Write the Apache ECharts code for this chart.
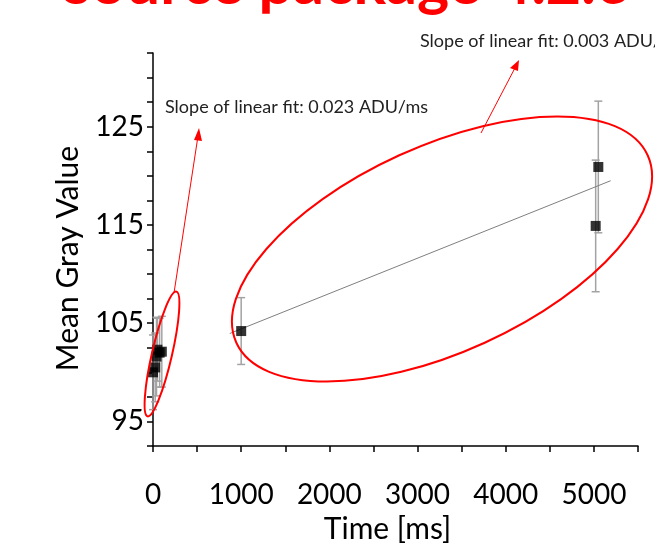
<!DOCTYPE html>
<html>
<head>
<meta charset="utf-8">
<style>
  html, body { margin: 0; padding: 0; background: #fff; }
  #chart { width: 655px; height: 550px; }
</style>
<script src="https://cdn.jsdelivr.net/npm/echarts@6/dist/echarts.min.js"></script>
</head>
<body>
<div id="chart"></div>
<script>
// 数据：时间 [ms]、平均灰度值、误差
var timeMs    = [0, 25, 40, 50, 75, 100, 1000, 5020, 5050];
var grayValue = [100.0, 100.5, 101.6, 102.3, 102.0, 102.1, 104.2, 114.9, 120.9];
var grayError = [3.8, 3.5, 4.0, 3.2, 3.5, 3.6, 3.4, 6.7, 6.7];

// 线性拟合（长曝光段）的两个端点
var fitTime  = [870, 5190];
var fitValue = [103.95, 119.5];

// 刻度标签
var xTickLabels = [0, 1000, 2000, 3000, 4000, 5000];
var yTickLabels = [95, 105, 115, 125];

var slopeShort = 'Slope of linear fit: 0.023 ADU/ms';
var slopeLong  = 'Slope of linear fit: 0.003 ADU/ms';
var titleText  = 'source package 4.2.6';

var FONT = 'Lato';

var points = timeMs.map(function (t, i) { return [t, grayValue[i]]; });
var errBars = timeMs.map(function (t, i) {
	return [t, grayValue[i] - grayError[i], grayValue[i] + grayError[i]];
});
var fitLine = fitTime.map(function (t, i) { return [t, fitValue[i]]; });

var chart = echarts.init(document.getElementById('chart'));

//误差线
function renderErrBar(params, api) {
	var lo = api.coord([api.value(0), api.value(1)]);
	var hi = api.coord([api.value(0), api.value(2)]);
	var cap = 4;
	var style = { stroke: '#a3a3a3', lineWidth: 1.5 };
	return {
		type: 'group',
		children: [
			{ type: 'line', shape: { x1: lo[0], y1: lo[1], x2: hi[0], y2: hi[1] }, style: style },
			{ type: 'line', shape: { x1: lo[0] - cap, y1: lo[1], x2: lo[0] + cap, y2: lo[1] }, style: style },
			{ type: 'line', shape: { x1: hi[0] - cap, y1: hi[1], x2: hi[0] + cap, y2: hi[1] }, style: style }
		]
	};
}

chart.setOption({
	animation: false,
	grid: { left: 153, right: 17, top: 53, bottom: 104 },
	xAxis: {
		type: 'value',
		min: 0, max: 5500, interval: 500,
		name: 'Time [ms]',
		nameLocation: 'middle',
		nameGap: 68,
		nameTextStyle: { fontFamily: FONT, fontSize: 30, color: '#000', padding: [0, 16, 0, 0] },
		axisLine: { onZero: false, lineStyle: { color: '#000', width: 1.5 } },
		axisTick: { length: 6, lineStyle: { color: '#000', width: 1.5 } },
		axisLabel: {
			margin: 35, fontFamily: FONT, fontSize: 28, color: '#000',
			formatter: function (v) { return xTickLabels.indexOf(v) >= 0 ? String(v) : ''; }
		},
		splitLine: { show: false }
	},
	yAxis: {
		type: 'value',
		min: 92.5, max: 132.5, interval: 2.5,
		name: 'Mean Gray Value',
		nameLocation: 'middle',
		nameGap: 70,
		nameTextStyle: { fontFamily: FONT, fontSize: 30, color: '#000', padding: [0, 18, 0, 0] },
		axisLine: { onZero: false, lineStyle: { color: '#000', width: 1.5 } },
		axisTick: { length: 6, lineStyle: { color: '#000', width: 1.5 } },
		axisLabel: {
			margin: 9, fontFamily: FONT, fontSize: 28, color: '#000',
			formatter: function (v) { return yTickLabels.indexOf(v) >= 0 ? String(v) : ''; }
		},
		splitLine: { show: false }
	},
	series: [
		{
			type: 'custom',
			renderItem: renderErrBar,
			data: errBars,
			z: 1
		},
		{
			type: 'line',
			data: fitLine,
			symbol: 'none',
			lineStyle: { color: '#7f7f7f', width: 1 },
			z: 2
		},
		{
			type: 'scatter',
			data: points,
			symbol: 'rect',
			symbolSize: 10,
			itemStyle: { color: '#000' },
			z: 3
		}
	],
	graphic: [
		{
			type: 'text', left: 64, top: -46,
			style: { text: titleText, fill: '#ff0000', font: 'bold 61px ' + FONT }
		},
		{
			type: 'text', left: 165, top: 98,
			style: { text: slopeShort, fill: '#222', font: '18px ' + FONT }
		},
		{
			type: 'text', left: 420, top: 32,
			style: { text: slopeLong, fill: '#222', font: '18px ' + FONT }
		},
		//大椭圆
		{
			type: 'ellipse', x: 442, y: 249, rotation: 24.5 * Math.PI / 180,
			shape: { cx: 0, cy: 0, rx: 226, ry: 103 },
			style: { fill: 'none', stroke: '#ff0000', lineWidth: 2 }, z: 10
		},
		//小椭圆
		{
			type: 'ellipse', x: 162, y: 354, rotation: 77 * Math.PI / 180,
			shape: { cx: 0, cy: 0, rx: 64, ry: 10 },
			style: { fill: 'none', stroke: '#ff0000', lineWidth: 2 }, z: 10
		},
		//箭头
		{
			type: 'line', shape: { x1: 481, y1: 133, x2: 516, y2: 66 },
			style: { stroke: '#ff0000', lineWidth: 1 }, z: 10
		},
		{
			type: 'polygon', shape: { points: [[519, 60], [510, 68], [518, 71]] },
			style: { fill: '#ff0000' }, z: 10
		},
		{
			type: 'line', shape: { x1: 174, y1: 293, x2: 198, y2: 136 },
			style: { stroke: '#ff0000', lineWidth: 1 }, z: 10
		},
		{
			type: 'polygon', shape: { points: [[199, 128], [194, 140], [202, 141]] },
			style: { fill: '#ff0000' }, z: 10
		}
	]
});
</script>
</body>
</html>
